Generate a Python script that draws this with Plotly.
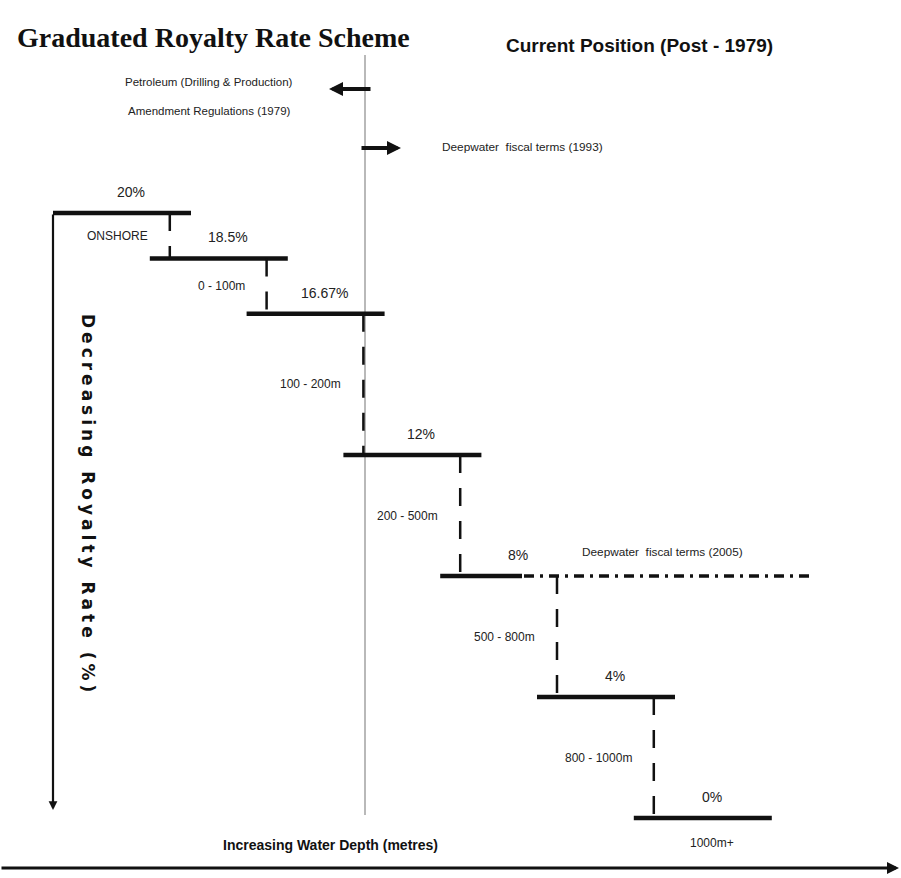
import plotly.graph_objects as go

# ---- data ----
rates = [20, 18.5, 16.67, 12, 8, 4, 0]
rate_labels = ["20%", "18.5%", "16.67%", "12%", "8%", "4%", "0%"]
depth_labels = ["ONSHORE", "0 - 100m", "100 - 200m", "200 - 500m",
                "500 - 800m", "800 - 1000m", "1000m+"]
deepwater_2005_rate = 8

# ---- layout helpers (pixel geometry of the diagram) ----
W, H = 901, 878
X0, DX = 53, 96.8          # pixel x of step 0 start, pixels per step
Y0, DY = 818, 30.25         # pixel y of 0 %, pixels per 1 %
STEP_W = 138 / DX
CONN = 20 / DX


def xd(px):
    return (px - X0) / DX


def yd(py):
    return (Y0 - py) / DY


def py_paper(py):
    return 1 - py / H


fig = go.Figure()

BLACK = "#111111"
SANS = "Liberation Sans, Arial, sans-serif"

# thin grey reference line (1979 position)
fig.add_trace(go.Scatter(x=[xd(365), xd(365)], y=[yd(55), yd(815)], mode="lines",
                         line=dict(color="#8a8a8a", width=1.2), hoverinfo="skip",
                         showlegend=False))

# steps
for i, r in enumerate(rates):
    x_end = i + STEP_W
    if r == deepwater_2005_rate:
        x_end = xd(522)
    fig.add_trace(go.Scatter(x=[i, x_end], y=[r, r], mode="lines",
                             line=dict(color=BLACK, width=4.5), hoverinfo="skip",
                             showlegend=False))

# deepwater 2005 extension
fig.add_trace(go.Scatter(x=[xd(524), xd(810)], y=[deepwater_2005_rate] * 2, mode="lines",
                         line=dict(color=BLACK, width=3.5, dash="10px,6px,3px,6px"),
                         hoverinfo="skip", showlegend=False))

# dashed connectors
for i in range(len(rates) - 1):
    xc = i + 1 + CONN
    fig.add_trace(go.Scatter(x=[xc, xc], y=[rates[i], rates[i + 1]], mode="lines",
                             line=dict(color=BLACK, width=2.5, dash="18px,15px"),
                             hoverinfo="skip", showlegend=False))

annotations = []

# rate labels
for i, (r, lab) in enumerate(zip(rates, rate_labels)):
    annotations.append(dict(x=i + STEP_W / 2 + 9 / DX, y=r, text=lab, showarrow=False,
                            xanchor="center", yanchor="middle",
                            yshift=21, font=dict(family=SANS, size=14, color="#222")))

# depth labels
for i, lab in enumerate(depth_labels):
    if i < len(rates) - 1:
        annotations.append(dict(x=i + 1 + CONN - 20 / DX, y=(rates[i] + rates[i + 1]) / 2,
                                text=lab, showarrow=False, xanchor="right", yanchor="middle",
                                font=dict(family=SANS, size=12, color="#222")))
    else:
        annotations.append(dict(x=xd(712), y=rates[-1], yshift=-25, text=lab,
                                xanchor="center", yanchor="middle",
                                showarrow=False, font=dict(family=SANS, size=12, color="#222")))

# arrows
arrow_common = dict(xref="x", yref="y", axref="x", ayref="y", text="", showarrow=True,
                    arrowcolor=BLACK)
annotations.append(dict(x=xd(329), y=yd(89), ax=xd(372), ay=yd(89), arrowwidth=4,
                        arrowhead=2, arrowsize=0.7, **arrow_common))
annotations.append(dict(x=xd(401), y=yd(148), ax=xd(360), ay=yd(148), arrowwidth=4,
                        arrowhead=2, arrowsize=0.7, **arrow_common))
annotations.append(dict(x=xd(53), y=yd(810), ax=xd(53), ay=rates[0], arrowwidth=2.2,
                        arrowhead=2, arrowsize=0.8, **arrow_common))
annotations.append(dict(x=xd(899), y=yd(868), ax=xd(0), ay=yd(868), arrowwidth=3,
                        arrowhead=2, arrowsize=0.8, **arrow_common))


def ptext(px, py, text, size, family=SANS, color="#222", xanchor="center", **kw):
    return dict(xref="paper", yref="paper", x=px / W, y=py_paper(py), xanchor=xanchor,
                yanchor="middle", text=text, showarrow=False,
                font=dict(family=family, size=size, color=color), **kw)


annotations += [
    ptext(15, 38, "<b>Graduated Royalty Rate Scheme</b>", 28,
          family="Liberation Serif, Times New Roman, serif", color="#111", xanchor="left"),
    ptext(639, 45, "<b>Current Position (Post - 1979)</b>", 19, color="#111"),
    ptext(209, 82, "Petroleum (Drilling &amp; Production)", 11.5),
    ptext(209, 111, "Amendment Regulations (1979)", 11.5),
    ptext(440, 147, "Deepwater  fiscal terms (1993)", 11.8, xanchor="left"),
    ptext(580, 552, "Deepwater  fiscal terms (2005)", 11.8, xanchor="left"),
    ptext(330, 845, "<b>Increasing Water Depth (metres)</b>", 14, color="#111"),
    ptext(88, 505, "<b><span style=\"letter-spacing:4px\">Decreasing Royalty Rate (%)</span></b>",
          17, family="DejaVu Sans, sans-serif", color="#111", textangle=90),
]

fig.update_layout(
    width=W, height=H, margin=dict(l=0, r=0, t=0, b=0),
    paper_bgcolor="white", plot_bgcolor="white",
    xaxis=dict(range=[xd(0), xd(W)], visible=False, fixedrange=True),
    yaxis=dict(range=[yd(H), yd(0)], visible=False, fixedrange=True),
    annotations=annotations, showlegend=False,
)

fig.write_html("out.html", config={"displayModeBar": False},
               post_script="document.body.style.margin='0';")
